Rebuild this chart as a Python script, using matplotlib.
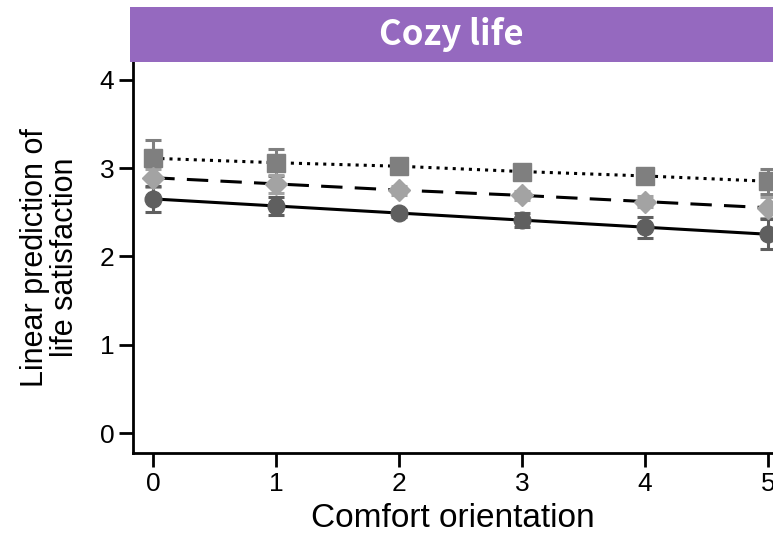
import matplotlib
matplotlib.use("Agg")
import matplotlib.pyplot as plt

# data
comfort = [0, 1, 2, 3, 4, 5]
square_vals = [3.11, 3.06, 3.02, 2.96, 2.91, 2.85]
square_err = [0.21, 0.15, 0.05, 0.05, 0.06, 0.14]
diamond_vals = [2.89, 2.82, 2.75, 2.69, 2.62, 2.55]
diamond_err = [0.10, 0.10, 0.05, 0.05, 0.06, 0.12]
circle_vals = [2.65, 2.57, 2.49, 2.41, 2.33, 2.25]
circle_err = [0.15, 0.10, 0.04, 0.08, 0.12, 0.17]
y_ticks = [0, 1, 2, 3, 4]
panel_title = "Cozy life"

plt.rcParams.update({
    "font.family": ["Liberation Sans", "DejaVu Sans"],
    "axes.linewidth": 2.0,
    "xtick.major.width": 2.0,
    "ytick.major.width": 2.0,
    "xtick.major.size": 10,
    "ytick.major.size": 10,
    "xtick.labelsize": 19,
    "ytick.labelsize": 19,
})

fig = plt.figure(figsize=(7.73, 5.33), dpi=100)
ax = fig.add_axes([133 / 773, 80 / 533, 1 - 133 / 773, (453 - 62) / 533])

series = [
    (square_vals, square_err, "s", "#7f7f7f", ":", 13),
    (diamond_vals, diamond_err, "D", "#a3a3a3", (0, (7, 4)), 11),
    (circle_vals, circle_err, "o", "#5f5f5f", "-", 12),
]
for vals, err, marker, color, ls, ms in series:
    ax.plot(comfort, vals, color="black", linestyle=ls, linewidth=2.2, zorder=2)
    ax.errorbar(comfort, vals, yerr=err, fmt=marker, color=color, markersize=ms,
                ecolor=color, elinewidth=2.2, capsize=6, capthick=2.2, zorder=3,
                markeredgecolor=color)

ax.set_xlim(-0.165, 5.04)
ax.set_ylim(-0.226, 4.2)
ax.set_xticks(comfort)
ax.set_yticks(y_ticks)
ax.spines["top"].set_visible(False)
ax.spines["right"].set_visible(False)
ax.set_xlabel("Comfort orientation", fontsize=24, labelpad=5)
ax.set_ylabel("Linear prediction of\nlife satisfaction", fontsize=22, labelpad=14,
              linespacing=1.0)

# strip header
strip = fig.add_axes([130 / 773, (533 - 62) / 533, 1 - 130 / 773, 55 / 533])
strip.set_facecolor("#9569bf")
strip.set_xticks([])
strip.set_yticks([])
for s in strip.spines.values():
    s.set_visible(False)
strip.text(0.5, 0.5, panel_title, color="white", fontsize=25, fontweight="bold",
           ha="center", va="center", family=["Noto Sans CJK KR", "DejaVu Sans"])

fig.savefig("out.png", dpi=100)
